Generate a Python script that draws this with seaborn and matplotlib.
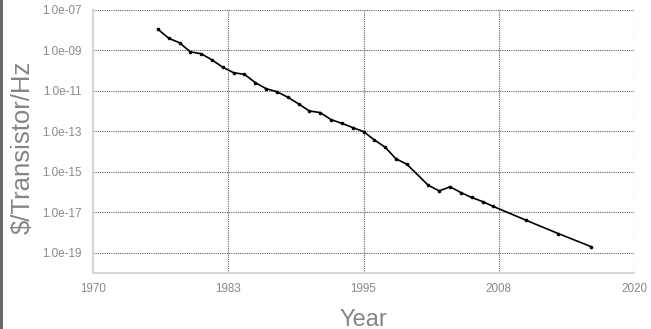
import matplotlib
matplotlib.use("Agg")
import matplotlib.pyplot as plt
import matplotlib.patches as mpatches
import seaborn as sns
import pandas as pd

# Cost per transistor per hertz over time
years = [1976, 1977, 1978, 1979, 1980, 1981, 1982, 1983, 1984, 1985, 1986, 1987,
         1988, 1989, 1990, 1991, 1992, 1993, 1994, 1995, 1996, 1997, 1998, 1999,
         2001, 2002, 2003, 2004, 2005, 2006, 2007, 2010, 2013, 2016]
cost = [1.12e-8, 4.0e-9, 2.4e-9, 8.5e-10, 6.9e-10, 3.4e-10, 1.48e-10, 7.9e-11,
        6.6e-11, 2.57e-11, 1.29e-11, 9.1e-12, 4.9e-12, 2.29e-12, 1.02e-12, 8.5e-13,
        3.8e-13, 2.5e-13, 1.55e-13, 9.8e-14, 3.8e-14, 1.66e-14, 4.4e-15, 2.4e-15,
        2.14e-16, 1.15e-16, 1.82e-16, 9.5e-17, 5.4e-17, 3.4e-17, 1.95e-17,
        4.1e-18, 8.9e-19, 2.04e-19]

x_ticks = [1970, 1982.5, 1995, 2007.5, 2020]
x_tick_labels = ["1970", "1983", "1995", "2008", "2020"]
y_ticks = [1e-7, 1e-9, 1e-11, 1e-13, 1e-15, 1e-17, 1e-19]
y_tick_labels = ["1.0e-07", "1.0e-09", "1.0e-11", "1.0e-13", "1.0e-15", "1.0e-17", "1.0e-19"]

df = pd.DataFrame({"Year": years, "Cost": cost})

sns.set_theme(style="white")
plt.rcParams["font.family"] = ["Liberation Sans", "DejaVu Sans"]

fig = plt.figure(figsize=(6.51, 3.29), dpi=100)
ax = fig.add_axes([93 / 651, 56 / 329, 541 / 651, 263 / 329])

sns.lineplot(data=df, x="Year", y="Cost", ax=ax, color="black", linewidth=1.2,
             marker="o", markersize=2.6, markeredgewidth=0, markerfacecolor="black")

ax.set_yscale("log")
ax.set_xlim(1970, 2020)
ax.set_ylim(1e-20, 1e-7)
ax.set_xticks(x_ticks)
ax.set_xticklabels(x_tick_labels)
ax.set_yticks(y_ticks)
ax.set_yticklabels(y_tick_labels)
ax.minorticks_off()

ax.grid(True, which="major", linestyle=(0, (1, 1)), color="#606060", linewidth=0.8)
ax.set_axisbelow(True)

for side in ("top", "right"):
    ax.spines[side].set_visible(False)
for side in ("left", "bottom"):
    ax.spines[side].set_color("#d6d6d6")
    ax.spines[side].set_linewidth(1.5)

tick_color = "#8a8a8a"
ax.tick_params(axis="both", length=0, labelsize=8.4, colors=tick_color)
ax.tick_params(axis="y", pad=8)
ax.tick_params(axis="x", pad=7)

label_color = "#858585"
ax.set_xlabel("Year", fontsize=17, color=label_color)
ax.set_ylabel("$/Transistor/Hz", fontsize=18.5, color=label_color)
ax.xaxis.set_label_coords(0.5, -0.135)
ax.yaxis.set_label_coords(-0.108, 0.478)

# thin dark strip along the left edge
fig.patches.append(mpatches.Rectangle((0, 0), 3 / 651, 1, transform=fig.transFigure,
                                      facecolor="#6a6a6a", edgecolor="none"))

fig.savefig("out.png", dpi=100)
